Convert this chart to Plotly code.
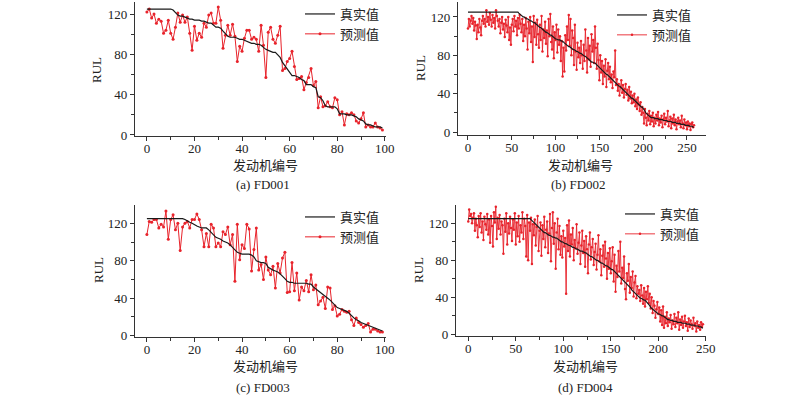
import plotly.graph_objects as go

# ---------------- data ----------------
idx_a = list(range(100))
true_a = [125]*11 + [124, 121, 119, 118, 118, 117, 116, 115, 115, 114, 114, 114, 113, 113, 112, 111, 111, 109, 107, 107,
         106, 103, 100, 98, 97, 97, 97, 96, 95, 95, 94, 93, 92, 91, 91, 90, 90, 89, 87, 85,
         84, 83, 82, 82, 79, 77, 72, 69, 66, 63, 59, 59, 58, 57, 55, 54, 50, 50, 50, 48,
         47, 38, 37, 34, 29, 28, 28, 28, 28, 26, 21, 21, 21, 20, 20, 20, 19, 18, 16, 15,
         14, 11, 10, 10, 9, 8, 8, 8, 7]
pred_a = [122, 125, 116, 120, 111, 115, 113, 101, 104, 114,
          101, 95, 107, 121, 112, 119, 112, 117, 101, 84,
          108, 94, 101, 97, 111, 107, 119, 121, 111, 111,
          127, 114, 86, 99, 109, 99, 110, 98, 73, 88,
          83, 96, 104, 104, 95, 97, 95, 83, 109, 89,
          57, 102, 107, 95, 91, 99, 108, 64, 66, 73,
          76, 83, 68, 55, 56, 58, 45, 52, 57, 66,
          49, 53, 27, 38, 28, 29, 33, 28, 27, 37,
          35, 20, 23, 10, 21, 20, 22, 20, 14, 12,
          16, 22, 8, 10, 8, 8, 12, 8, 7, 5]

idx_b = list(range(259))
true_b = [125]*58 + [124, 123,
          122, 121, 120, 120, 120, 119, 119, 118, 118, 117,
          117, 116, 116, 115, 115, 114, 114, 113, 112, 112,
          111, 110, 109, 109, 108, 107, 106, 106, 105, 104,
          104, 103, 103, 102, 101, 101, 100, 99, 98, 98,
          97, 97, 96, 96, 96, 96, 95, 95, 94, 94,
          93, 92, 92, 91, 90, 89, 89, 88, 87, 87,
          86, 86, 85, 85, 84, 84, 83, 83, 82, 82,
          81, 80, 80, 79, 79, 78, 77, 76, 76, 75,
          74, 73, 73, 72, 72, 72, 71, 71, 70, 69,
          68, 67, 66, 65, 64, 63, 62, 61, 60, 60,
          59, 58, 57, 56, 56, 55, 54, 53, 52, 51,
          50, 49, 48, 48, 47, 46, 45, 44, 43, 43,
          42, 41, 40, 39, 38, 37, 36, 35, 35, 34,
          33, 32, 31, 30, 30, 29, 28, 27, 26, 26,
          25, 23, 22, 20, 19, 18, 17, 16, 16, 15,
          15, 15, 15, 14, 14, 14, 14, 14, 13, 13,
          13, 13, 13, 12, 12, 12, 12, 12, 11, 11,
          11, 11, 11, 10, 10, 10, 10, 10, 9, 9,
          9, 9, 9, 8, 8, 8, 8, 8, 7, 7,
          7, 7, 7, 6, 6, 6, 6, 5, 5]
pred_b = [108, 118, 110, 116, 121, 113, 119, 106, 115, 111,
          97, 112, 104, 118, 109, 101, 116, 121, 113, 118,
          110, 127, 115, 120, 112, 124, 117, 110, 122, 114,
          119, 108, 127, 121, 116, 110, 118, 103, 114, 120,
          107, 113, 99, 117, 111, 104, 120, 96, 109, 91,
          112, 118, 105, 121, 110, 116, 101, 119, 108, 122,
          113, 104, 118, 95, 112, 100, 119, 108, 86, 115,
          103, 120, 94, 110, 73, 121, 99, 114, 91, 117,
          102, 88, 112, 96, 121, 84, 107, 98, 115, 92,
          106, 79, 118, 100, 123, 94, 86, 110, 77, 104,
          96, 112, 83, 107, 91, 100, 74, 95, 58, 88,
          63, 101, 85, 110, 96, 122, 90, 118, 80, 106,
          98, 70, 112, 84, 65, 93, 78, 88, 72, 95,
          80, 66, 91, 74, 107, 85, 62, 98, 76, 90,
          68, 102, 84, 96, 72, 110, 88, 66, 92, 75,
          54, 80, 62, 74, 50, 69, 58, 76, 47, 64,
          72, 55, 68, 52, 60, 46, 63, 57, 85, 49,
          55, 43, 50, 38, 47, 54, 41, 49, 36, 45,
          50, 39, 44, 33, 47, 35, 42, 30, 38, 31,
          40, 27, 34, 24, 36, 29, 22, 31, 18, 26,
          20, 9, 24, 15, 7, 19, 12, 22, 8, 17,
          11, 20, 6, 15, 9, 18, 12, 21, 7, 14,
          10, 17, 5, 13, 19, 8, 15, 11, 22, 6,
          12, 16, 4, 14, 9, 18, 7, 13, 3, 11,
          15, 8, 12, 5, 17, 9, 4, 13, 7, 10,
          3, 11, 6, 9, 2, 8, 10, 5, 7]

idx_c = list(range(100))
true_c = [125]*16 + [124, 122, 121, 120,
          118, 117, 116, 115, 115, 115, 113, 110, 107, 105,
          104, 103, 101, 100, 99, 97, 94, 91, 89, 88,
          87, 87, 87, 87, 86, 84, 80, 79, 78, 78,
          77, 73, 71, 70, 69, 68, 66, 64, 61, 58,
          57, 57, 56, 56, 56, 56, 56, 56, 55, 55,
          52, 50, 48, 45, 43, 42, 40, 38, 35, 32,
          30, 29, 28, 27, 26, 24, 21, 19, 17, 16,
          14, 13, 12, 11, 10, 9, 8, 7, 6, 5]
pred_c = [108, 122, 121, 124, 124, 115, 119, 116, 133, 103,
          124, 129, 113, 120, 91, 116, 120, 122, 115, 124,
          124, 130, 124, 113, 95, 109, 95, 119, 115, 95,
          99, 95, 111, 108, 116, 97, 108, 58, 119, 81,
          97, 93, 119, 114, 69, 92, 115, 70, 76, 60,
          84, 70, 65, 74, 51, 77, 67, 83, 89, 46,
          47, 78, 48, 67, 38, 52, 48, 59, 47, 65,
          49, 54, 33, 37, 41, 29, 52, 51, 28, 32,
          21, 23, 28, 26, 25, 26, 17, 11, 19, 14,
          12, 9, 11, 13, 4, 7, 7, 5, 4, 4]

idx_d = list(range(248))
true_d = [125]*66 + [124, 123, 121, 120,
          119, 118, 117, 116, 115, 114, 113, 112, 111, 111,
          110, 110, 109, 108, 108, 107, 107, 106, 106, 105,
          105, 104, 104, 104, 103, 103, 102, 101, 100, 100,
          99, 99, 98, 98, 97, 97, 96, 96, 95, 95,
          94, 94, 93, 93, 92, 92, 91, 91, 90, 90,
          90, 89, 89, 88, 88, 87, 86, 86, 85, 84,
          84, 83, 82, 82, 81, 80, 80, 79, 78, 78,
          77, 77, 76, 75, 75, 74, 74, 73, 72, 72,
          71, 70, 70, 69, 68, 67, 66, 65, 64, 63,
          62, 61, 60, 59, 58, 57, 56, 55, 54, 52,
          51, 50, 48, 47, 46, 44, 43, 42, 41, 40,
          40, 39, 39, 38, 38, 37, 37, 36, 35, 34,
          32, 31, 29, 28, 27, 26, 26, 25, 24, 23,
          22, 22, 21, 21, 20, 20, 19, 18, 17, 17,
          16, 16, 15, 15, 15, 15, 14, 14, 14, 14,
          13, 13, 13, 13, 13, 12, 12, 12, 12, 12,
          11, 11, 11, 11, 10, 10, 10, 10, 10, 9,
          9, 9, 9, 8, 8, 8, 7, 7]
pred_d = [122, 135, 128, 130, 120, 126, 131, 112, 125, 118,
          105, 128, 116, 131, 110, 122, 102, 127, 119, 113,
          130, 108, 124, 99, 128, 117, 95, 132, 121, 138,
          103, 126, 114, 129, 108, 122, 118, 87, 125, 111,
          131, 97, 120, 109, 127, 115, 101, 124, 113, 131,
          97, 121, 106, 128, 100, 118, 110, 132, 103, 125,
          117, 84, 129, 80, 121, 112, 126, 76, 119, 107,
          124, 96, 116, 128, 90, 112, 121, 85, 118, 103,
          127, 94, 113, 122, 88, 109, 130, 79, 115, 132,
          98, 120, 71, 110, 125, 92, 117, 86, 106, 83,
          112, 95, 104, 44, 118, 90, 123, 84, 108, 97,
          115, 80, 102, 93, 119, 87, 99, 110, 76, 96,
          112, 88, 101, 73, 106, 92, 66, 97, 110, 81,
          94, 103, 75, 89, 98, 70, 86, 107, 79, 92,
          64, 85, 96, 73, 100, 82, 60, 88, 71, 93,
          66, 79, 94, 57, 86, 46, 74, 62, 90, 68,
          100, 55, 72, 61, 84, 49, 38, 66, 58, 76,
          45, 62, 50, 68, 41, 56, 63, 39, 52, 44,
          48, 36, 53, 42, 33, 50, 30, 46, 38, 52,
          34, 44, 28, 40, 23, 36, 31, 18, 27, 35,
          22, 29, 14, 26, 10, 30, 7, 19, 12, 24,
          9, 17, 13, 21, 6, 15, 11, 22, 8, 18,
          12, 24, 5, 16, 10, 19, 7, 14, 20, 9,
          13, 4, 17, 8, 15, 11, 6, 18, 9, 12,
          3, 14, 7, 10, 5, 13, 8, 11]

series_names = ["真实值", "预测值"]
captions = ["(a) FD001", "(b) FD002", "(c) FD003", "(d) FD004"]
x_title = "发动机编号"
y_title = "RUL"

# ---------------- figure ----------------
W, H = 800, 397
FONT = "Liberation Serif, Noto Sans CJK SC, serif"
RED = "#e8232b"
BLACK = "#1a1a1a"
AX = "#333333"

panels = [
    dict(x=idx_a, t=true_a, p=pred_a, xd=(135, 386), yd=(2, 136), xr=[-5, 100.5], yr=[-1, 132], dt=20, mdt=10, ms=3, lw=1),
    dict(x=idx_b, t=true_b, p=pred_b, xd=(458, 706), yd=(2, 135), xr=[-11.4, 271.7], yr=[-3.1, 135.6], dt=50, mdt=25, ms=2.5, lw=0.9),
    dict(x=idx_c, t=true_c, p=pred_c, xd=(135, 386), yd=(205, 337), xr=[-5, 100.5], yr=[-1.4, 139.5], dt=20, mdt=10, ms=3, lw=1),
    dict(x=idx_d, t=true_d, p=pred_d, xd=(456, 706), yd=(205, 336), xr=[-12.9, 250.2], yr=[-1.8, 139.8], dt=50, mdt=25, ms=2.5, lw=0.9),
]
legend_pos = [(300, -1), (612, 0), (300, 202), (620, 199)]
rul_pos = [(97, 70), (420, 68), (98, 270), (418, 270)]
xt_pos = [(265, 165), (580, 165), (265, 366), (585, 366)]
cap_pos = [(263, 184), (578, 184), (263, 387), (585, 387)]

fig = go.Figure()
layout = dict(width=W, height=H, margin=dict(l=0, r=0, t=0, b=0, autoexpand=False),
              paper_bgcolor="white", plot_bgcolor="white",
              font=dict(family=FONT, size=13, color="#222"), showlegend=True)
annotations = []
for k, pn in enumerate(panels):
    n = "" if k == 0 else str(k + 1)
    lg = "legend" if k == 0 else f"legend{k+1}"
    fig.add_trace(go.Scatter(x=pn["x"], y=pn["p"], mode="lines+markers", name=series_names[1],
                             line=dict(color=RED, width=pn["lw"]), marker=dict(color=RED, size=pn["ms"]),
                             xaxis="x" + n, yaxis="y" + n, legend=lg, legendrank=2))
    fig.add_trace(go.Scatter(x=pn["x"], y=pn["t"], mode="lines", name=series_names[0],
                             line=dict(color=BLACK, width=1.2),
                             xaxis="x" + n, yaxis="y" + n, legend=lg, legendrank=1))
    xd = [pn["xd"][0] / W, pn["xd"][1] / W]
    yd = [1 - pn["yd"][1] / H, 1 - pn["yd"][0] / H]
    common = dict(showgrid=False, zeroline=False, showline=True, linecolor=AX, linewidth=1.3,
                  ticks="outside", ticklen=4, tickwidth=1.2, tickcolor=AX, automargin=False,
                  tickfont=dict(family=FONT, size=13, color="#222"))
    layout["xaxis" + n] = dict(domain=xd, range=pn["xr"], anchor="y" + n, tick0=0, dtick=pn["dt"],
                               ticklabelstandoff=-4,
                               minor=dict(ticks="outside", ticklen=2.5, tickcolor=AX, tickwidth=1, dtick=pn["mdt"], tick0=0),
                               **common)
    layout["yaxis" + n] = dict(domain=yd, range=pn["yr"], anchor="x" + n, tick0=0, dtick=40,
                               minor=dict(ticks="outside", ticklen=2.5, tickcolor=AX, tickwidth=1, dtick=20, tick0=0),
                               **common)
    lx, ly = legend_pos[k]
    layout[lg] = dict(x=lx / W, y=1 - ly / H, xanchor="left", yanchor="top",
                      bgcolor="rgba(0,0,0,0)", borderwidth=0, tracegroupgap=0,
                      font=dict(family=FONT, size=13, color="#222"), itemwidth=30)
    ann_common = dict(xref="paper", yref="paper", showarrow=False, xanchor="center", yanchor="middle",
                      font=dict(size=13))
    rx, ry = rul_pos[k]
    annotations.append(dict(text=y_title, x=rx / W, y=1 - ry / H, textangle=-90, **ann_common))
    tx, ty = xt_pos[k]
    annotations.append(dict(text=x_title, x=tx / W, y=1 - ty / H, **ann_common))
    cx, cy = cap_pos[k]
    annotations.append(dict(text=captions[k], x=cx / W, y=1 - cy / H, **ann_common))
layout["annotations"] = annotations
fig.update_layout(**layout)
fig.write_html("out.html", config={"displayModeBar": False},
               post_script="document.body.style.margin='0px';")
